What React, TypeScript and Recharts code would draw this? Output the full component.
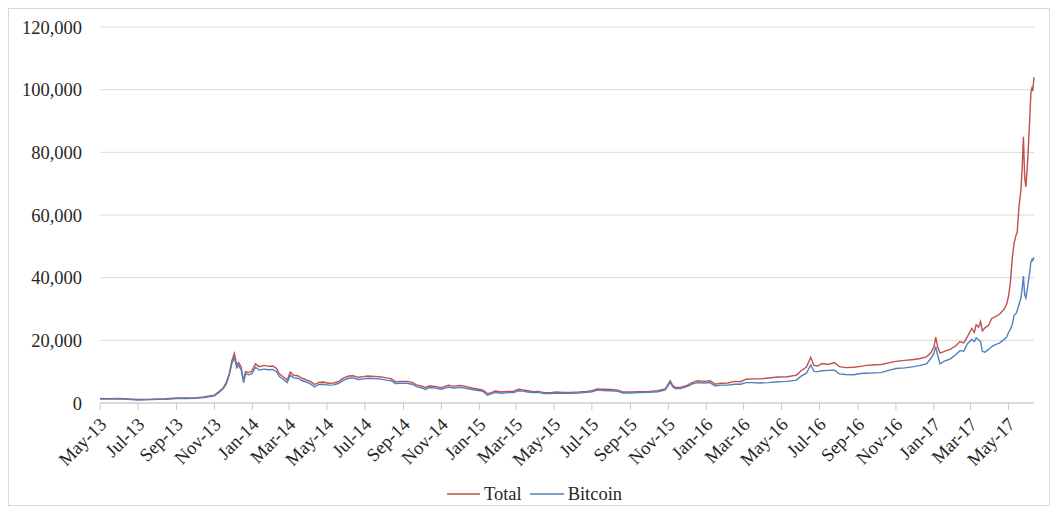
import React from "react";
import {
  LineChart,
  Line,
  XAxis,
  YAxis,
  CartesianGrid,
  Legend,
} from "recharts";

// market capitalisation, USD millions
const dates = [
  "2013-05-01", "2013-05-15", "2013-06-01", "2013-06-15", "2013-07-01", "2013-07-15",
  "2013-08-01", "2013-08-15", "2013-09-01", "2013-09-15", "2013-10-01", "2013-10-15",
  "2013-11-01", "2013-11-08", "2013-11-15", "2013-11-20", "2013-11-25", "2013-11-29",
  "2013-12-03", "2013-12-07", "2013-12-10", "2013-12-14", "2013-12-18", "2013-12-21",
  "2013-12-26", "2013-12-31", "2014-01-06", "2014-01-12", "2014-01-20", "2014-01-27",
  "2014-02-03", "2014-02-09", "2014-02-13", "2014-02-20", "2014-02-26", "2014-03-03",
  "2014-03-08", "2014-03-15", "2014-03-22", "2014-03-29", "2014-04-05", "2014-04-11",
  "2014-04-18", "2014-04-25", "2014-05-03", "2014-05-12", "2014-05-20", "2014-05-28",
  "2014-06-05", "2014-06-12", "2014-06-20", "2014-06-28", "2014-07-06", "2014-07-15",
  "2014-07-25", "2014-08-04", "2014-08-12", "2014-08-19", "2014-08-28", "2014-09-07",
  "2014-09-15", "2014-09-22", "2014-10-01", "2014-10-06", "2014-10-12", "2014-10-22",
  "2014-11-01", "2014-11-12", "2014-11-20", "2014-12-01", "2014-12-10", "2014-12-20",
  "2014-12-31", "2015-01-07", "2015-01-14", "2015-01-20", "2015-01-27", "2015-02-05",
  "2015-02-15", "2015-02-25", "2015-03-05", "2015-03-12", "2015-03-20", "2015-03-28",
  "2015-04-06", "2015-04-15", "2015-04-25", "2015-05-05", "2015-05-15", "2015-05-28",
  "2015-06-10", "2015-06-22", "2015-07-01", "2015-07-10", "2015-07-20", "2015-08-01",
  "2015-08-12", "2015-08-20", "2015-09-01", "2015-09-15", "2015-10-01", "2015-10-15",
  "2015-10-27", "2015-11-04", "2015-11-08", "2015-11-12", "2015-11-20", "2015-12-01",
  "2015-12-10", "2015-12-18", "2015-12-28", "2016-01-07", "2016-01-15", "2016-01-25",
  "2016-02-05", "2016-02-15", "2016-02-25", "2016-03-05", "2016-03-15", "2016-03-28",
  "2016-04-10", "2016-04-25", "2016-05-10", "2016-05-25", "2016-06-01", "2016-06-10",
  "2016-06-17", "2016-06-22", "2016-06-28", "2016-07-05", "2016-07-15", "2016-07-25",
  "2016-08-02", "2016-08-12", "2016-08-25", "2016-09-05", "2016-09-15", "2016-09-28",
  "2016-10-08", "2016-10-20", "2016-11-01", "2016-11-15", "2016-11-30", "2016-12-10",
  "2016-12-20", "2016-12-27", "2017-01-01", "2017-01-04", "2017-01-07", "2017-01-11",
  "2017-01-18", "2017-01-27", "2017-02-05", "2017-02-12", "2017-02-18", "2017-02-24",
  "2017-03-03", "2017-03-07", "2017-03-10", "2017-03-14", "2017-03-17", "2017-03-20",
  "2017-03-24", "2017-03-30", "2017-04-04", "2017-04-10", "2017-04-17", "2017-04-24",
  "2017-04-28", "2017-05-01", "2017-05-04", "2017-05-07", "2017-05-10", "2017-05-13",
  "2017-05-15", "2017-05-18", "2017-05-21", "2017-05-23", "2017-05-25", "2017-05-27",
  "2017-05-29", "2017-06-01", "2017-06-04", "2017-06-06", "2017-06-08", "2017-06-09",
  "2017-06-11",
];

const total = [
  1450, 1400, 1450, 1300, 1100, 1150,
  1300, 1350, 1600, 1600, 1650, 1900,
  2500, 3600, 4800, 6500, 9500, 13500,
  15800, 12000, 12900, 11500, 7000, 10000,
  9700, 10200, 12500, 11600, 12000, 11700,
  11800, 11000, 9400, 8300, 7300, 9900,
  8900, 8700, 7900, 7400, 6800, 5900,
  6600, 6700, 6300, 6400, 6900, 8000,
  8600, 8700, 8200, 8400, 8600, 8500,
  8400, 8000, 7800, 6800, 6900, 6900,
  6600, 5800, 5400, 4900, 5400, 5300,
  4900, 5700, 5400, 5600, 5300, 4800,
  4400, 4100, 3000, 3300, 3800, 3500,
  3700, 3700, 4400, 4200, 3900, 3600,
  3700, 3300, 3300, 3500, 3400, 3400,
  3500, 3700, 3900, 4500, 4400, 4300,
  4100, 3500, 3500, 3600, 3700, 3900,
  4500, 7100, 5600, 5000, 5000, 5600,
  6600, 7100, 6900, 7100, 6000, 6300,
  6400, 6900, 6800, 7600, 7700, 7700,
  8000, 8300, 8400, 8900, 10200, 11500,
  14600, 12000, 11800, 12600, 12300, 12900,
  11600, 11300, 11400, 11700, 12000, 12200,
  12300, 12800, 13300, 13600, 13900, 14200,
  14700, 16000, 17800, 21000, 18000, 15900,
  16500, 17100, 18200, 19600, 19200, 21200,
  23800, 22500, 25000, 24200, 26000, 23000,
  24000, 24800, 27000, 27600, 28400, 30000,
  31500, 34000, 38500, 46000, 51000, 53500,
  54500, 63000, 68000, 75000, 85000, 72000,
  69000, 78000, 90000, 99000, 101000, 99500,
  104000,
];

const bitcoin = [
  1250, 1250, 1300, 1150, 950, 1000,
  1150, 1200, 1400, 1450, 1500, 1700,
  2300, 3300, 4500, 6000, 9000, 12500,
  14500, 11200, 12000, 10600, 6500, 9400,
  9000, 9300, 11400, 10500, 10800, 10600,
  10700, 10000, 8500, 7500, 6500, 8900,
  8100, 7900, 7100, 6700, 6000, 5100,
  5900, 6000, 5700, 5800, 6300, 7300,
  7900, 8000, 7500, 7700, 7900, 7800,
  7700, 7300, 7100, 6200, 6300, 6300,
  6000, 5200, 4800, 4300, 4900, 4800,
  4400, 5100, 4800, 5000, 4700, 4300,
  4000, 3700, 2500, 2900, 3400, 3100,
  3300, 3300, 3900, 3800, 3500, 3300,
  3400, 3000, 3000, 3200, 3100, 3100,
  3200, 3400, 3600, 4100, 4000, 3900,
  3700, 3200, 3200, 3300, 3400, 3600,
  4200, 6600, 5200, 4600, 4600, 5200,
  6100, 6500, 6400, 6500, 5400, 5700,
  5700, 6000, 6000, 6500, 6500, 6400,
  6500, 6800, 6900, 7300, 8500, 9500,
  12200, 10100, 10000, 10300, 10400, 10500,
  9300, 9100, 9000, 9400, 9500, 9600,
  9700, 10400, 11000, 11200, 11600, 12000,
  12500, 14200, 15800, 18000, 15200, 12500,
  13400, 14000, 15400, 16700, 16500, 18900,
  20300, 19600, 20800, 20200, 19500, 16500,
  16200, 17100, 18000, 18600, 19200, 20300,
  21000, 22500, 23500, 25000, 28000, 28500,
  29500, 31500, 33500, 36500, 40500, 34500,
  33500, 37500, 41500, 45000, 45800, 45500,
  46500,
];

const tickDates = [
  "2013-05-01", "2013-07-01", "2013-09-01", "2013-11-01",
  "2014-01-01", "2014-03-01", "2014-05-01", "2014-07-01", "2014-09-01", "2014-11-01",
  "2015-01-01", "2015-03-01", "2015-05-01", "2015-07-01", "2015-09-01", "2015-11-01",
  "2016-01-01", "2016-03-01", "2016-05-01", "2016-07-01", "2016-09-01", "2016-11-01",
  "2017-01-01", "2017-03-01", "2017-05-01",
];

const yTicks = [0, 20000, 40000, 60000, 80000, 100000, 120000];

const monthNames = ["Jan", "Feb", "Mar", "Apr", "May", "Jun", "Jul", "Aug", "Sep", "Oct", "Nov", "Dec"];

const toTs = (s: string) => Date.parse(s + "T00:00:00Z");

const data = dates.map((d, i) => ({
  t: toTs(d),
  total: total[i],
  bitcoin: bitcoin[i],
}));

const FONT = "'Liberation Serif', 'Times New Roman', serif";
const RED = "#c0504d";
const BLUE = "#4f81bd";

const fmtMonth = (ts: number) => {
  const d = new Date(ts);
  return monthNames[d.getUTCMonth()] + "-" + String(d.getUTCFullYear()).slice(2);
};

const DateTick = (props: any) => {
  const { x, y, payload } = props;
  const px = x + 3;
  const py = y + 9;
  return (
    <text
      x={px}
      y={py}
      dy="0.35em"
      textAnchor="end"
      transform={`rotate(-45, ${px}, ${py})`}
      fontFamily={FONT}
      fontSize={18.5}
      fill="#262626"
    >
      {fmtMonth(payload.value)}
    </text>
  );
};

const LegendBox = () => (
  <div
    style={{
      display: "flex",
      justifyContent: "center",
      alignItems: "center",
      height: 22,
      paddingLeft: 26,
      fontFamily: FONT,
      fontSize: 18.5,
      color: "#262626",
    }}
  >
    <svg width={33} height={4} style={{ marginRight: 4 }}>
      <line x1={0} y1={2} x2={33} y2={2} stroke={RED} strokeWidth={1.5} />
    </svg>
    <span style={{ marginRight: 8 }}>Total</span>
    <svg width={34} height={4} style={{ marginRight: 4 }}>
      <line x1={0} y1={2} x2={34} y2={2} stroke={BLUE} strokeWidth={1.5} />
    </svg>
    <span>Bitcoin</span>
  </div>
);

export default function App() {
  return (
    <div
      style={{
        width: 1042,
        height: 498,
        border: "1px solid #d9d9d9",
        boxSizing: "border-box",
        background: "#fff",
      }}
    >
      <LineChart
        width={1040}
        height={496}
        data={data}
        margin={{ top: 18, right: 15, left: 0, bottom: 0 }}
      >
        <CartesianGrid vertical={false} stroke="#d9d9d9" />
        <XAxis
          dataKey="t"
          type="number"
          scale="time"
          domain={[toTs("2013-05-01"), toTs("2017-06-11")]}
          ticks={tickDates.map(toTs)}
          tick={<DateTick />}
          interval={0}
          height={80}
          tickSize={7}
          tickMargin={2}
          axisLine={{ stroke: "#c8c8c8" }}
          tickLine={{ stroke: "#c8c8c8" }}
        />
        <YAxis
          domain={[0, 120000]}
          ticks={yTicks}
          width={91}
          axisLine={false}
          tickLine={false}
          tickSize={0}
          tickMargin={18}
          tickFormatter={(v: number) => v.toLocaleString("en-US")}
          tick={{ fontFamily: FONT, fontSize: 18.5, fill: "#262626" }}
        />
        <Legend verticalAlign="bottom" content={<LegendBox />} />
        <Line
          type="linear"
          dataKey="total"
          name="Total"
          stroke={RED}
          strokeWidth={1.4}
          dot={false}
          isAnimationActive={false}
        />
        <Line
          type="linear"
          dataKey="bitcoin"
          name="Bitcoin"
          stroke={BLUE}
          strokeWidth={1.4}
          dot={false}
          isAnimationActive={false}
        />
      </LineChart>
    </div>
  );
}
